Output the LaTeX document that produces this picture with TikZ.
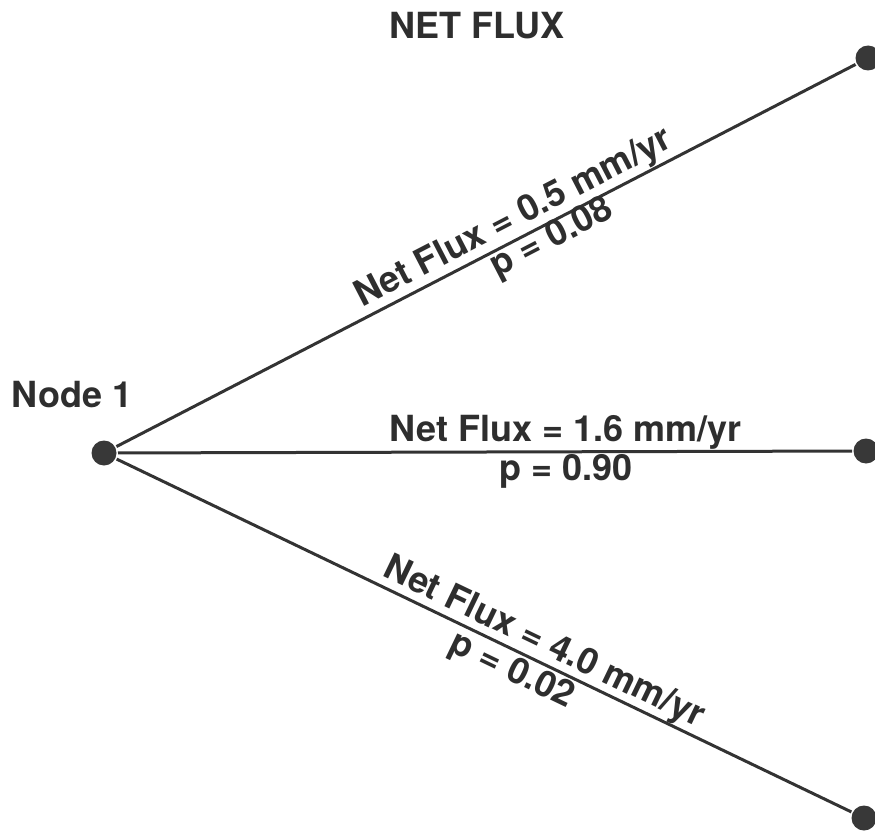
\documentclass[tikz,border=0pt]{standalone}
\usepackage{fontspec}
\setmainfont{TeX Gyre Heros}
\begin{document}
\begin{tikzpicture}[x=1pt,y=-1pt,inner sep=0.5mm,line width=3,
	vertex/.style={circle,fill=black!78,minimum size=25,inner sep=0},
	lbl/.style={font=\fontsize{36}{40}\selectfont\bfseries,text=black!82}]
	
	\useasboundingbox (0,0) rectangle (875,832);
	
	\node at (104,453) [vertex] (v1) {};
	\node at (868,58) [vertex] (v2) {};
	\node at (866,451) [vertex] (v3) {};
	\node at (864,818) [vertex] (v4) {};
	
	\node at (477,26) [lbl] (title) {NET FLUX};
	\node at (72,395) [lbl] (name) {Node 1};
	
	\path[draw=black!80]
	(v1) edge node[lbl,sloped,above,pos=0.55,inner sep=1]{Net Flux = 0.5 mm/yr}
	          node[lbl,sloped,below,pos=0.58,inner sep=0,yshift=3]{p = 0.08} (v2)
	(v1) edge node[lbl,above,pos=0.61,inner sep=1]{Net Flux = 1.6 mm/yr}
	          node[lbl,below,pos=0.61,inner sep=1]{p = 0.90} (v3)
	(v1) edge node[lbl,sloped,above,pos=0.57,inner sep=0]{Net Flux = 4.0 mm/yr}
	          node[lbl,sloped,below,pos=0.55,inner sep=2]{p = 0.02} (v4)
	;
	
\end{tikzpicture}
\end{document}
